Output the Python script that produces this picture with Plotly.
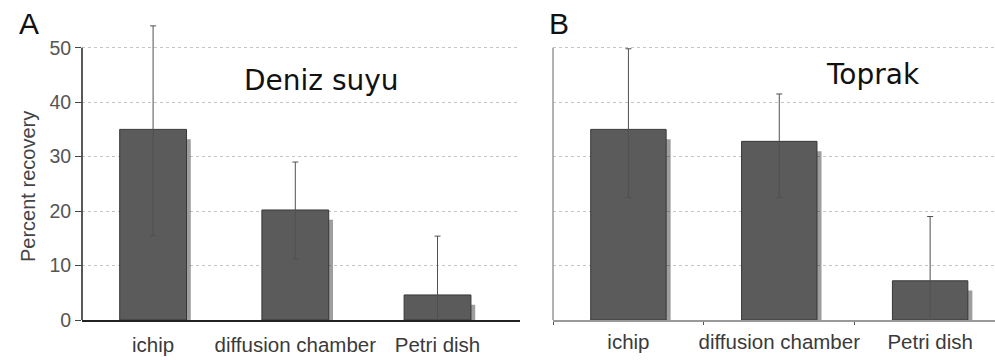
import plotly.graph_objects as go

categories = ["ichip", "diffusion chamber", "Petri dish"]
sea_values = [35.0, 20.2, 4.6]
sea_err_plus = [19.0, 8.8, 10.8]
sea_err_minus = [19.5, 9.0, 4.6]
soil_values = [35.0, 32.8, 7.2]
soil_err_plus = [14.8, 8.7, 11.8]
soil_err_minus = [12.5, 10.3, 7.2]
y_ticks = [0, 10, 20, 30, 40, 50]

W, H = 995, 360
fig = go.Figure()

def add_panel(vals, ep, em, xa, ya, width):
    # soft drop shadow behind each bar
    fig.add_trace(go.Bar(
        x=categories, y=[v - 1.0 for v in vals], base=[-0.8] * 3,
        width=width, offset=-width / 2 + 0.03,
        marker=dict(color="rgba(40,40,40,0.45)", line=dict(width=0)),
        xaxis=xa, yaxis=ya, showlegend=False, hoverinfo="skip"))
    fig.add_trace(go.Bar(
        x=categories, y=vals, width=width,
        marker=dict(color="#5b5b5b", line=dict(color="#383838", width=1)),
        error_y=dict(type="data", symmetric=False, array=ep, arrayminus=em,
                     color="#505050", thickness=1, width=3),
        xaxis=xa, yaxis=ya, showlegend=False))

add_panel(sea_values, sea_err_plus, sea_err_minus, "x", "y", 0.47)
add_panel(soil_values, soil_err_plus, soil_err_minus, "x2", "y2", 0.5)

yrange = [0, 56]
m_top, m_bot = 15, 40
ph = H - m_top - m_bot
grid = dict(showgrid=True, gridcolor="#c4c4c4", griddash="dot", gridwidth=1)
lab_font = dict(size=20.5, color="#3a3a3a", family="Liberation Sans, Arial, sans-serif")

def py(pix):
    return 1 - (pix - m_top) / ph

fig.update_layout(
    width=W, height=H,
    margin=dict(l=0, r=0, t=m_top, b=m_bot, autoexpand=False),
    plot_bgcolor="white", paper_bgcolor="white",
    font=dict(family="Liberation Sans, Arial, sans-serif", size=19, color="#444"),
    xaxis=dict(domain=[82 / W, 520 / W], range=[-0.5, 2.58], showline=True,
               linecolor="#222", linewidth=1.5, ticks="", showgrid=False,
               tickangle=0, automargin=False, tickfont=lab_font, ticklabelstandoff=6),
    yaxis=dict(range=yrange, tickvals=y_ticks, ticks="outside", ticklen=6,
               tickcolor="#444", showline=False, zeroline=False, automargin=False,
               tickfont=dict(size=19.5, color="#555"), **grid),
    xaxis2=dict(domain=[553 / W, 1.0], range=[-0.5, 2.43], showline=True,
                linecolor="#999", linewidth=1.5, ticks="outside", ticklen=3,
                tickcolor="#555", tickson="boundaries", showgrid=False,
                tickangle=0, automargin=False, tickfont=lab_font, anchor="y2",
                ticklabelstandoff=3),
    yaxis2=dict(range=yrange, tickvals=y_ticks, showticklabels=False,
                showline=False, zeroline=False, anchor="x2", automargin=False, **grid),
)

# Left axis lines (only up to 50)
fig.add_shape(type="line", xref="x domain", yref="y", x0=0, x1=0, y0=0, y1=50,
              line=dict(color="#222", width=1.5))
fig.add_shape(type="line", xref="x2 domain", yref="y2", x0=0, x1=0, y0=0, y1=50,
              line=dict(color="#999", width=1.5))

fig.add_annotation(text="Percent recovery", xref="paper", yref="paper",
                   x=28 / W, y=py(187), textangle=-90, showarrow=False,
                   font=dict(size=20, color="#444"), xanchor="center", yanchor="middle")
fig.add_annotation(text="A", xref="paper", yref="paper", x=29 / W, y=py(24),
                   showarrow=False, xanchor="center", yanchor="middle",
                   font=dict(size=30, color="#111", family="Liberation Sans, Arial"))
fig.add_annotation(text="B", xref="paper", yref="paper", x=559 / W, y=py(24),
                   showarrow=False, xanchor="center", yanchor="middle",
                   font=dict(size=30, color="#111", family="Liberation Sans, Arial"))
fig.add_annotation(text="Deniz suyu", xref="paper", yref="paper", x=321 / W,
                   y=py(81), showarrow=False, xanchor="center", yanchor="middle",
                   font=dict(size=28, color="#111", family="DejaVu Sans"))
fig.add_annotation(text="Toprak", xref="paper", yref="paper", x=873 / W,
                   y=py(74), showarrow=False, xanchor="center", yanchor="middle",
                   font=dict(size=28, color="#111", family="DejaVu Sans"))

fig.write_html("out.html", config={"displayModeBar": False},
               post_script="document.body.style.margin='0';")
